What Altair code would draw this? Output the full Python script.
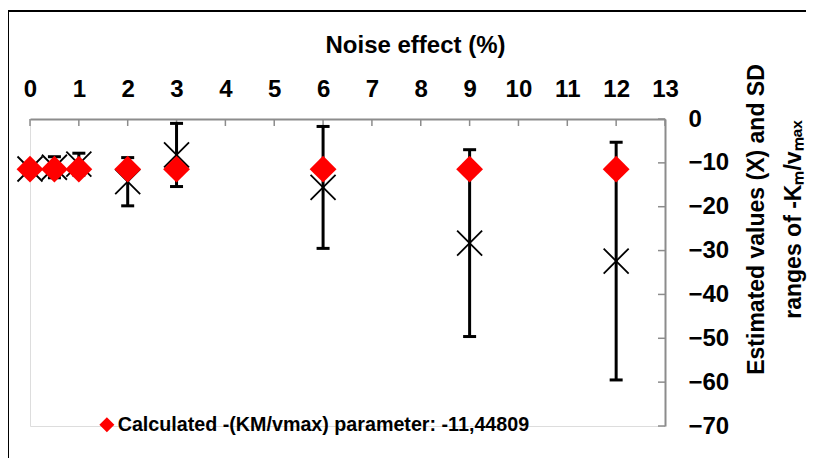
import altair as alt
import pandas as pd

# ---- data ----
noise = [0, 0.5, 1, 2, 3, 6, 9, 12]
est_mean = [-11.4, -11.0, -10.3, -14.3, -8.2, -15.6, -28.3, -32.4]
est_sd = [1.0, 2.4, 2.5, 5.5, 7.2, 13.9, 21.3, 27.1]
calc_value = -11.44809
legend_label = "Calculated -(KM/vmax) parameter: -11,44809"

x_ticks = list(range(0, 14))
y_ticks = [0, -10, -20, -30, -40, -50, -60, -70]

x_title = "Noise effect (%)"
y_title = ["Estimated values (X) and SD", "ranges of -Kₘ/vₘₐₓ"]

# ---- tables ----
df = pd.DataFrame({"noise": noise, "mean": est_mean, "sd": est_sd})
df["low"] = df["mean"] - df["sd"]
df["high"] = df["mean"] + df["sd"]
df_calc = pd.DataFrame({"noise": noise, "calc": [calc_value] * len(noise),
                        "series": [legend_label] * len(noise)})
df_xt = pd.DataFrame({"noise": x_ticks})
df_yt = pd.DataFrame({"mean": y_ticks})

W, H = 635, 307
FONT = "Liberation Sans"
GRAY = "#8c8c8c"

xscale = alt.Scale(domain=[0, 13], nice=False, zero=False)
yscale = alt.Scale(domain=[-70, 0], nice=False, zero=False)

x_axis = alt.Axis(orient="top", values=x_ticks, title=x_title, ticks=False, tickSize=0,
                  grid=False, domainColor=GRAY, domainWidth=2, labelFlush=False,
                  labelFont=FONT, labelFontSize=24, labelFontWeight="bold", labelColor="#000",
                  labelBaseline="alphabetic", labelPadding=23,
                  titleFont=FONT, titleFontSize=24, titleFontWeight="bold", titleColor="#000",
                  titleBaseline="alphabetic", titleX=385, titleY=-67, titleAlign="center")
y_axis = alt.Axis(orient="right", values=y_ticks, title=y_title, ticks=False, tickSize=0,
                  grid=False, domainColor=GRAY, domainWidth=2, labelFlush=False,
                  labelFont=FONT, labelFontSize=24, labelFontWeight="bold", labelColor="#000",
                  labelAlign="left", labelPadding=23,
                  titleFont=FONT, titleFontSize=23, titleFontWeight="bold", titleColor="#000",
                  titleAngle=270, titleBaseline="alphabetic", titleAlign="center",
                  titleLineHeight=37, titleX=98, titleY=100)


def X(field):
    return alt.X(field, type="quantitative", scale=xscale, axis=x_axis)


def Y(field):
    return alt.Y(field, type="quantitative", scale=yscale, axis=y_axis)


base = alt.Chart(df)

xt = alt.Chart(df_xt).mark_rule(color=GRAY, strokeWidth=1.5).encode(
    x=X("noise"), y=alt.value(0), y2=alt.value(7))
yt = alt.Chart(df_yt).mark_rule(color=GRAY, strokeWidth=1.5).encode(
    y=Y("mean"), x=alt.value(W - 7), x2=alt.value(W))

bars = base.mark_rule(color="#000", strokeWidth=3).encode(
    x=X("noise"), y=Y("low"), y2="high:Q")
cap_lo = base.mark_tick(color="#000", thickness=3, size=13, orient="horizontal", opacity=1).encode(
    x=X("noise"), y=Y("low"))
cap_hi = base.mark_tick(color="#000", thickness=3, size=13, orient="horizontal", opacity=1).encode(
    x=X("noise"), y=Y("high"))

crosses = base.mark_point(shape="M-1,-1L1,1M1,-1L-1,1", filled=False, color="#000",
                          strokeWidth=1.8, size=625, opacity=1).encode(
    x=X("noise"), y=Y("mean"))

diamonds = alt.Chart(df_calc).mark_point(shape="diamond", filled=True, size=720,
                                          opacity=1, strokeWidth=0).encode(
    x=X("noise"),
    y=Y("calc"),
    color=alt.Color("series:N", scale=alt.Scale(domain=[legend_label], range=["#ff0000"]),
                    legend=alt.Legend(title=None, orient="none", legendX=67, legendY=296,
                                      symbolType="diamond", symbolSize=225, symbolStrokeWidth=0,
                                      labelFont=FONT, labelFontSize=19.7, labelFontWeight="bold",
                                      labelColor="#000", labelLimit=0, labelOffset=1, padding=0)),
)

frame_left = alt.Chart(df_xt).mark_rule(color="#000", strokeWidth=1.5).encode(
    x=alt.value(-22), y=alt.value(-108), y2=alt.value(H + 40))
frame_top = alt.Chart(df_xt).mark_rule(color="#000", strokeWidth=1.5).encode(
    y=alt.value(-108), x=alt.value(-22), x2=alt.value(W + 141))

chart = alt.layer(frame_left, frame_top, xt, yt, bars, cap_lo, cap_hi, crosses, diamonds).properties(
    width=W, height=H, autosize="none",
    padding={"left": 22, "top": 111, "right": 142, "bottom": 32},
).configure_view(strokeWidth=0, stroke="transparent").configure(font=FONT)

chart.save("out.html", embed_options={"renderer": "svg", "actions": False})
